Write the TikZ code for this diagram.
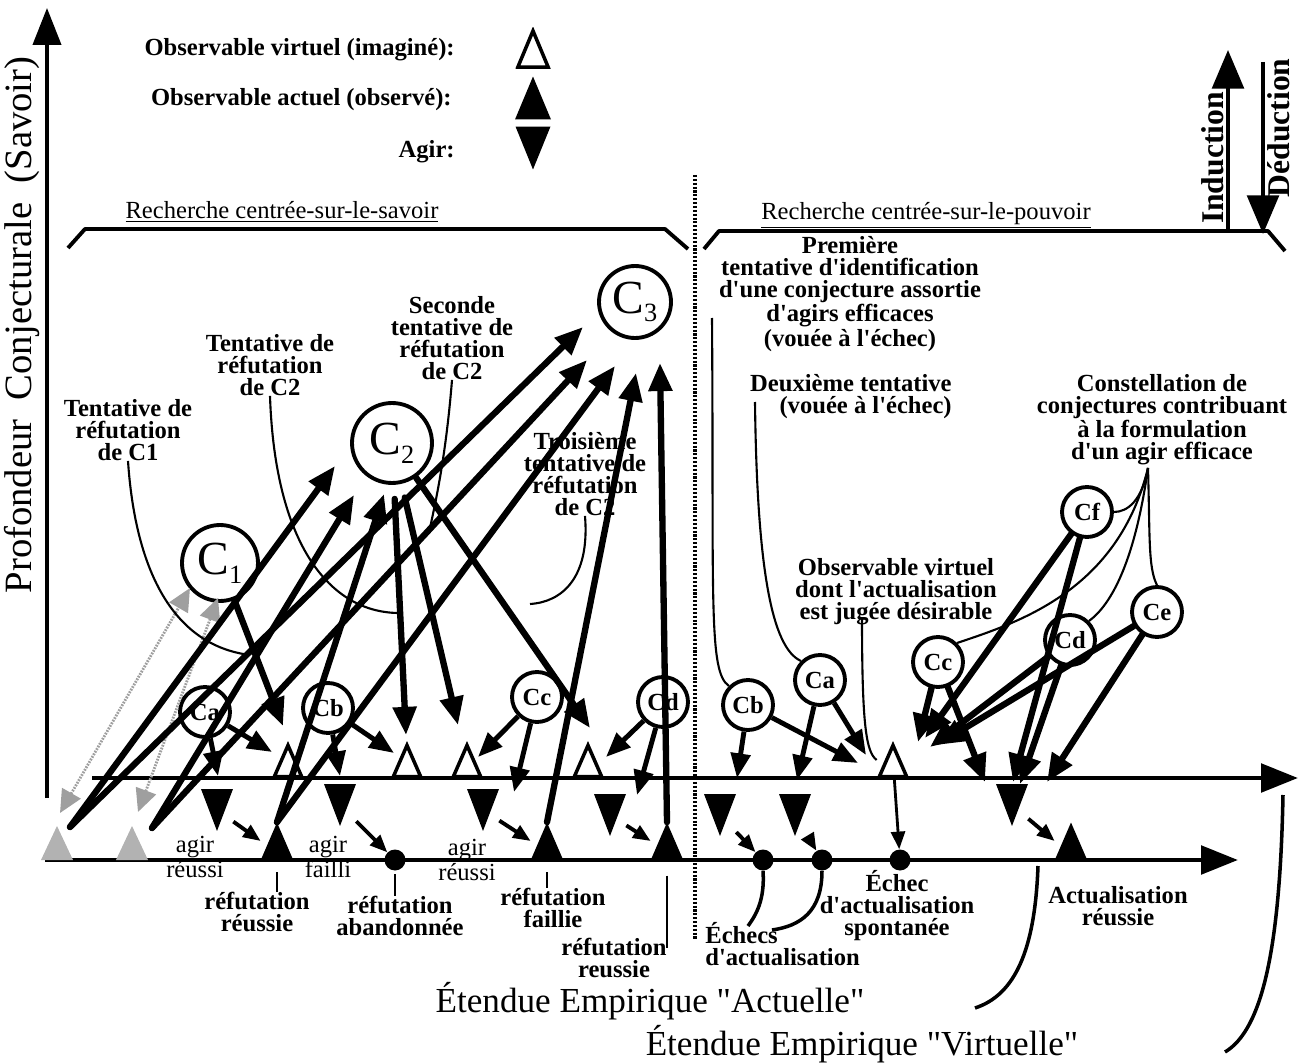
\documentclass[tikz,border=0pt]{standalone}
\usepackage{fontspec}
\setmainfont{Liberation Serif}
\usetikzlibrary{arrows.meta}
\newcommand\Cbig[1]{C\raisebox{-0.4ex}{\fontsize{15}{15}\selectfont #1}}
\newcommand\ap{\textquotesingle}
\newcommand\qu{\textquotedbl}
\tikzset{
  conj/.style={circle, draw, fill=white, line width=2.2pt, inner sep=0pt, font=\fontsize{27}{27}\selectfont},
  petit/.style={circle, draw, fill=white, line width=2.2pt, inner sep=0pt, minimum size=1cm, font=\fontsize{14}{14}\selectfont\bfseries},
  tri/.style={inner sep=0pt, minimum width=0.64cm, minimum height=0.74cm},
  obs/.style={tri, path picture={\fill[#1] (path picture bounding box.south west) -- (path picture bounding box.north) -- (path picture bounding box.south east) -- cycle;}},
  obs/.default=black,
  virt/.style={tri, path picture={\draw[line width=2pt, fill=white] ([shift={(1.3pt,1pt)}]path picture bounding box.south west) -- ([yshift=-2.2pt]path picture bounding box.north) -- ([shift={(-1.3pt,1pt)}]path picture bounding box.south east) -- cycle;}},
  agir/.style={tri, minimum height=0.84cm, path picture={\fill (path picture bounding box.north west) -- (path picture bounding box.south) -- (path picture bounding box.north east) -- cycle;}},
  rond/.style={circle, fill, inner sep=0pt, minimum size=0.42cm},
  big/.style={line width=3.6pt, line cap=round, -{Triangle[length=16pt,width=13pt]}},
  med/.style={line width=2.8pt, -{Triangle[length=14pt,width=11pt]}},
  sml/.style={line width=2.2pt, -{Triangle[length=10pt,width=8pt]}},
  lead/.style={line width=1.2pt},
  axe/.style={line width=2.8pt, -{Triangle[length=21pt,width=16pt]}},
  accol/.style={line width=2.2pt, line join=round},
  gris/.style={gray!75, line width=1.6pt, dash pattern=on 1pt off 0.7pt, {Triangle[length=13pt,width=12pt]}-{Triangle[length=13pt,width=12pt]}},
  lab/.style={font=\fontsize{14}{12.5}\selectfont\bfseries, align=center, inner sep=0pt},
  labr/.style={font=\fontsize{14}{12.5}\selectfont, align=center, inner sep=0pt},
}

\begin{document}
\begin{tikzpicture}[x=0.02cm,y=-0.02cm]
%define stuff
\def\axeV{778}
\def\axeA{860}
%set bounding box
\useasboundingbox (0,0) rectangle (1299,1064);
%Legend
\node[lab, anchor=east] (legV) at (455,50) {Observable virtuel (imaginé):};
\node[lab, anchor=east] (legA) at (452,100) {Observable actuel (observé):};
\node[lab, anchor=east] (legG) at (455,152) {Agir:};
\node[virt, minimum width=0.7cm, minimum height=0.84cm] (legVt) at (533,48) {};
\node[obs, minimum width=0.72cm, minimum height=0.86cm] (legAt) at (533,98) {};
\node[agir, minimum width=0.7cm, minimum height=0.86cm] (legGt) at (533,148) {};
%Axes
\coordinate (yb) at (47,798);
\coordinate (yt) at (47,8);
\draw[axe, line width=2pt] (yb) -- (yt);
\node[rotate=90, font=\fontsize{22}{22}\selectfont, inner sep=0pt] (ylab) at (22,325) {Profondeur~~Conjecturale~~(Savoir)};
\coordinate (vg) at (92,\axeV);
\coordinate (vd) at (1298,\axeV);
\draw[axe] (vg) -- (vd);
\coordinate (ag) at (45,\axeA);
\coordinate (ad) at (1238,\axeA);
\draw[axe] (ag) -- (ad);
%Induction / Deduction
\coordinate (indb) at (1228,232);
\coordinate (indt) at (1228,50);
\draw[line width=2.2pt, -{Triangle[length=22pt,width=18pt]}] (indb) -- (indt);
\node[rotate=90, anchor=south, inner sep=1pt, font=\fontsize{18}{18}\selectfont\bfseries] (ind) at (1226,158) {Induction};
\coordinate (dedt) at (1263,62);
\coordinate (dedb) at (1263,234);
\draw[line width=2.2pt, -{Triangle[length=22pt,width=18pt]}] (dedt) -- (dedb);
\node[rotate=90, anchor=north, inner sep=1pt, font=\fontsize{18}{18}\selectfont\bfseries] (ded) at (1265,128) {Déduction};
%Brackets
\draw[accol] (68,248) -- (85,229) -- (665,229) -- (688,249);
\draw[accol] (704,249) -- (719,231) -- (1268,231) -- (1285,251);
\node[labr, font=\fontsize{14}{14}\selectfont] (savoir) at (282,212) {\underline{Recherche centrée-sur-le-savoir}};
\node[labr, font=\fontsize{14}{14}\selectfont] (pouvoir) at (926,215) {\underline{Recherche centrée-sur-le-pouvoir}};
%Divider
\draw[line width=2.4pt, dash pattern=on 1.2pt off 1pt] (695,175) -- (695,940);

%Conjectures
\node[conj, minimum size=1.52cm] (C1) at (220,563) {\Cbig{1}};
\node[conj, minimum size=1.6cm] (C2) at (392,443) {\Cbig{2}};
\node[conj, minimum size=1.44cm] (C3) at (635,302) {\Cbig{3}};
\foreach \nom/\txt/\x/\y in {Ca/Ca/205/712, Cb/Cb/328/708, Cc/Cc/537/697, Cd/Cd/663/702, Cb2/Cb/748/705, Ca2/Ca/820/680, Cc2/Cc/938/662, Cd2/Cd/1070/640, Ce/Ce/1157/612, Cf/Cf/1087/512}
	\node[petit] (\nom) at (\x,\y) {\txt};
%Observables and agirs
\foreach \nom/\x in {V1/288, V2/407, V3/467, V4/588, V5/893}
	\node[virt] (\nom) at (\x,760) {};
\foreach \nom/\x in {O1/277, O2/547, O3/667, O4/1071}
	\node[obs] (\nom) at (\x,841) {};
\foreach \nom/\x in {P1/57, P2/132}
	\node[obs=gray!60, minimum height=0.68cm] (\nom) at (\x,843) {};
\foreach \nom/\x in {D1/395, D2/763, D3/822, D4/900}
	\node[rond] (\nom) at (\x,\axeA) {};
\foreach \nom/\x/\y in {G1/217/810, G2/340/805, G3/483/810, G4/610/815, G5/720/815, G6/795/815, G7/1012/805}
	\node[agir] (\nom) at (\x,\y) {};

%Grey arrows
\coordinate (gb1) at (60,813);
\coordinate (gh1) at (190,588);
\coordinate (gb2) at (138,812);
\coordinate (gh2) at (218,598);
\draw[gris] (gb1) -- (gh1);
\draw[gris] (gb2) -- (gh2);
%Induction arrows
\coordinate (S1) at (70,827);
\coordinate (S2) at (152,828);
\coordinate (t21) at (335,466);
\coordinate (t22) at (354,495);
\coordinate (t23) at (384,494);
\coordinate (t31) at (583,327);
\coordinate (t32) at (587,360);
\coordinate (t33) at (615,366);
\coordinate (t34) at (636,373);
\coordinate (t35) at (660,363);
\draw[big] (S1) -- (t21);
\draw[big] (S1) -- (t31);
\draw[big] (S2) -- (t22);
\draw[big] (S2) -- (t32);
\draw[big] (O1.north) -- (t23);
\draw[big] (O1.north) -- (t33);
\draw[big] (O2.north) -- (t34);
\draw[big] (O3.north) -- (t35);
%Deduction arrows
\coordinate (d1) at (283,726);
\coordinate (d2) at (406,735);
\coordinate (d3) at (458,725);
\coordinate (d4) at (590,728);
\draw[big] (C1) -- (d1);
\draw[big, shorten <=8pt] (C2) -- (d2);
\draw[big, shorten <=8pt] (C2) -- (d3);
\draw[big] (C2) -- (d4);
%Arrows from small conjectures
\foreach \de/\x/\y [count=\i] in {Ca/218/776, Ca/272/752, Cb/340/776, Cb/394/753, Cc/478/757, Cc/514/792, Cd/606/757, Cd/637/795, Cb2/737/778, Cb2/858/763, Ca2/797/780, Ca2/866/755}
{
	\coordinate (f\i) at (\x,\y);
	\draw[med] (\de) -- (f\i);
}
\foreach \de/\x/\y [count=\i] in {Cc2/918/742, Cc2/985/782, Cf/925/738, Cf/1013/782, Cd2/930/747, Cd2/1020/784, Ce/937/745, Ce/1047/782}
{
	\coordinate (k\i) at (\x,\y);
	\draw[big] (\de) -- (k\i);
}
%Agirs to results
\draw[sml] (G1) -- (O1.west);
\draw[sml] (G2) -- (D1);
\draw[sml] (G3) -- (O2.west);
\draw[sml] (G4) -- (O3.west);
\draw[sml] (G5) -- (D2);
\draw[sml] (G6) -- (D3);
\draw[sml] (G7) -- (O4.west);
\draw[sml, line width=1.6pt] (V5) -- (D4);

%Labels left
\node[lab] (tC1) at (128,430) {Tentative de\\réfutation\\de C1};
\node[lab] (tC2) at (270,365) {Tentative de\\réfutation\\de C2};
\node[lab] (sC2) at (452,338) {Seconde\\tentative de\\réfutation\\de C2};
\node[lab] (trC2) at (585,474) {Troisième\\tentative de\\réfutation\\de C2};
\coordinate (l1) at (250,655);
\coordinate (l2) at (398,613);
\coordinate (l3) at (430,528);
\coordinate (l4) at (530,604);
\draw[lead] (tC1.south) .. controls (135,565) and (170,645) .. (l1);
\draw[lead] (tC2.south) .. controls (275,545) and (330,612) .. (l2);
\draw[lead] (sC2.south) .. controls (446,455) and (436,500) .. (l3);
\draw[lead] (trC2.south) .. controls (590,578) and (562,602) .. (l4);
\node[labr] (agR1) at (195,857) {agir\\réussi};
\node[labr] (agF) at (328,857) {agir\\failli};
\node[labr] (agR2) at (467,860) {agir\\réussi};
\node[lab] (refR) at (257,912) {réfutation\\réussie};
\node[lab] (refA) at (400,916) {réfutation\\abandonnée};
\node[lab] (refF) at (553,908) {réfutation\\faillie};
\node[lab] (refR2) at (614,958) {réfutation\\reussie};
\draw[lead] ([yshift=-7pt]O1.south) -- (O1.south |- refR.north);
\draw[lead] ([yshift=-2pt]D1.south) -- (D1.south |- refA.north);
\draw[lead] ([yshift=-7pt]O2.south) -- (O2.south |- refF.north);
\draw[lead] ([yshift=-9pt]O3.south) -- ([yshift=-6pt]O3.south |- refR2.north);
%Labels right
\node[lab] (prem) at (850,294) {Première\\tentative d\ap identification\\d\ap une conjecture assortie\\d\ap agirs efficaces\\(vouée à l\ap échec)};
\node[lab, align=right, anchor=east] (deux) at (952,397) {Deuxième tentative\\(vouée à l\ap échec)};
\node[lab] (const) at (1162,420) {Constellation de\\conjectures contribuant\\à la formulation\\d\ap un agir efficace};
\node[lab] (obsv) at (896,592) {Observable virtuel\\dont l\ap actualisation\\est jugée désirable};
\coordinate (l5) at (712,318);
\coordinate (l6) at (755,402);
\coordinate (l7) at (862,617);
\coordinate (fan) at (1148,468);
\draw[lead] (l5) .. controls (714,600) and (708,672) .. (Cb2.135);
\draw[lead] (l6) .. controls (757,570) and (772,648) .. (Ca2.135);
\draw[lead] (l7) .. controls (862,725) and (866,752) .. (V5.west);
\draw[lead] (fan) .. controls (1142,500) and (1128,512) .. (Cf.east);
\draw[lead] (fan) .. controls (1118,590) and (1020,622) .. (Cc2.45);
\draw[lead] (fan) .. controls (1135,560) and (1112,604) .. (Cd2.45);
\draw[lead] (fan) .. controls (1150,535) and (1148,568) .. (Ce.north);
\node[lab] (echS) at (897,906) {Échec\\d\ap actualisation\\spontanée};
\node[lab, align=left, anchor=west] (echs) at (705,944) {Échecs\\d\ap actualisation};
\node[lab] (actR) at (1118,906) {Actualisation\\réussie};
\coordinate (l8) at (748,926);
\coordinate (l9) at (772,930);
\draw[lead, line width=2pt] (D2.south) .. controls (765,900) and (756,915) .. (l8);
\draw[lead, line width=2pt] (D3.south) .. controls (822,912) and (800,926) .. (l9);
%Extents
\node[font=\fontsize{20}{21}\selectfont, inner sep=0pt] (etA) at (650,1001) {Étendue Empirique \qu Actuelle\qu};
\node[font=\fontsize{20}{21}\selectfont, inner sep=0pt] (etV) at (862,1044) {Étendue Empirique \qu Virtuelle\qu};
\coordinate (l10a) at (1038,866);
\coordinate (l10b) at (975,1008);
\coordinate (l11a) at (1283,795);
\coordinate (l11b) at (1225,1052);
\draw[lead, line width=2pt] (l10a) .. controls (1035,950) and (1015,995) .. (l10b);
\draw[lead, line width=2pt] (l11a) .. controls (1280,950) and (1262,1030) .. (l11b);

\end{tikzpicture}
\end{document}
